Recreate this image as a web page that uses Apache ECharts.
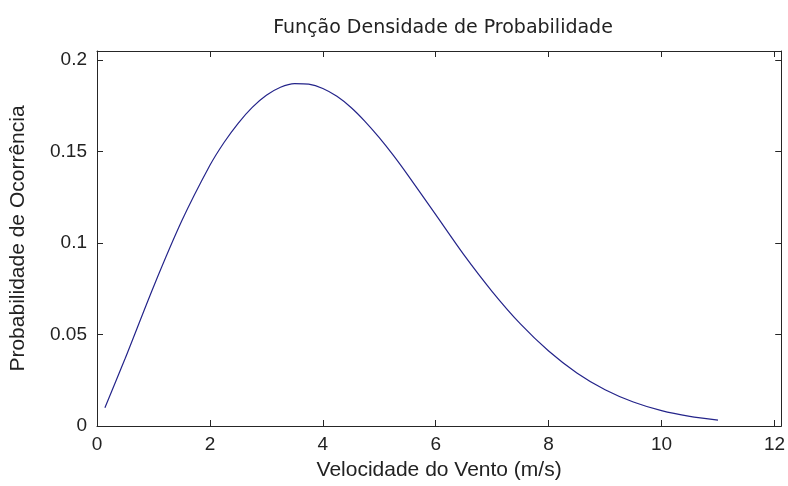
<!DOCTYPE html>
<html>
<head>
<meta charset="utf-8">
<title>Função Densidade de Probabilidade</title>
<script src="https://cdn.jsdelivr.net/npm/echarts@6/dist/echarts.min.js"></script>
<style>
html, body { margin: 0; padding: 0; background: #fff; }
#chart { width: 788px; height: 486px; }
</style>
</head>
<body>
<div id="chart"></div>
<script>
// velocidade do vento (m/s) e densidade
const velocidade = [0.14, 0.5, 1, 1.5, 2, 2.25, 2.5, 2.75, 3, 3.25, 3.5, 3.75, 4, 4.25, 4.5, 4.75, 5, 5.25, 5.5, 6, 6.5, 7, 7.5, 8, 8.5, 9, 9.5, 10, 10.5, 11];
const densidade = [0.010, 0.037, 0.076, 0.112, 0.1425, 0.155, 0.1655, 0.1742, 0.1808, 0.1852, 0.1872, 0.1869, 0.1845, 0.1802, 0.1741, 0.1664, 0.1576, 0.1479, 0.1374, 0.1155, 0.0935, 0.0735, 0.0558, 0.0410, 0.0290, 0.0198, 0.0131, 0.0084, 0.0053, 0.0032];

const xTicks = [0, 2, 4, 6, 8, 10, 12];
const yTicks = [0, 0.05, 0.1, 0.15, 0.2];

const corEixo = '#262626';
const corTexto = '#222';
const fonte = 'Liberation Sans';

const chart = echarts.init(document.getElementById('chart'));

const eixoBase = {
    axisLine: { show: true, onZero: false, lineStyle: { color: corEixo, width: 1 } },
    axisTick: { show: true, inside: true, length: 6, lineStyle: { color: corEixo } },
    splitLine: { show: false }
};

const option = {
    backgroundColor: '#fff',
    animation: false,
    title: {
        text: 'Função Densidade de Probabilidade',
        left: 438,
        top: 14,
        textAlign: 'center',
        textStyle: { fontFamily: 'DejaVu Sans', fontSize: 19, fontWeight: 'normal', color: corTexto }
    },
    grid: { left: 95, right: 3, top: 51, bottom: 58 },
    xAxis: [
        Object.assign({}, eixoBase, {
            type: 'value',
            min: 0,
            max: 12.12,
            interval: 2,
            name: 'Velocidade do Vento (m/s)',
            nameLocation: 'middle',
            nameGap: 34,
            nameTextStyle: { fontFamily: fonte, fontSize: 21, color: corTexto },
            axisLabel: {
                fontFamily: fonte, fontSize: 19, color: corTexto, margin: 9,
                showMaxLabel: false,
                formatter: v => xTicks.indexOf(v) >= 0 ? String(v) : ''
            }
        }),
        Object.assign({}, eixoBase, {
            type: 'value',
            position: 'top',
            min: 0,
            max: 12.12,
            interval: 2,
            axisLabel: { show: false }
        })
    ],
    yAxis: [
        Object.assign({}, eixoBase, {
            type: 'value',
            min: 0,
            max: 0.205,
            interval: 0.05,
            name: 'Probabilidade de Ocorrência',
            nameLocation: 'middle',
            nameGap: 68,
            nameTextStyle: { fontFamily: fonte, fontSize: 21, color: corTexto },
            axisLabel: {
                fontFamily: fonte, fontSize: 19, color: corTexto, margin: 10,
                showMaxLabel: false,
                formatter: v => {
                    const t = yTicks.find(y => Math.abs(y - v) < 1e-9);
                    return t === undefined ? '' : String(t);
                }
            }
        }),
        Object.assign({}, eixoBase, {
            type: 'value',
            position: 'right',
            min: 0,
            max: 0.205,
            interval: 0.05,
            axisLabel: { show: false }
        })
    ],
    series: [
        {
            type: 'line',
            data: velocidade.map((v, i) => [v, densidade[i]]),
            smooth: 0.25,
            showSymbol: false,
            lineStyle: { color: '#24248a', width: 1.2 }
        }
    ]
};

chart.setOption(option);
</script>
</body>
</html>
